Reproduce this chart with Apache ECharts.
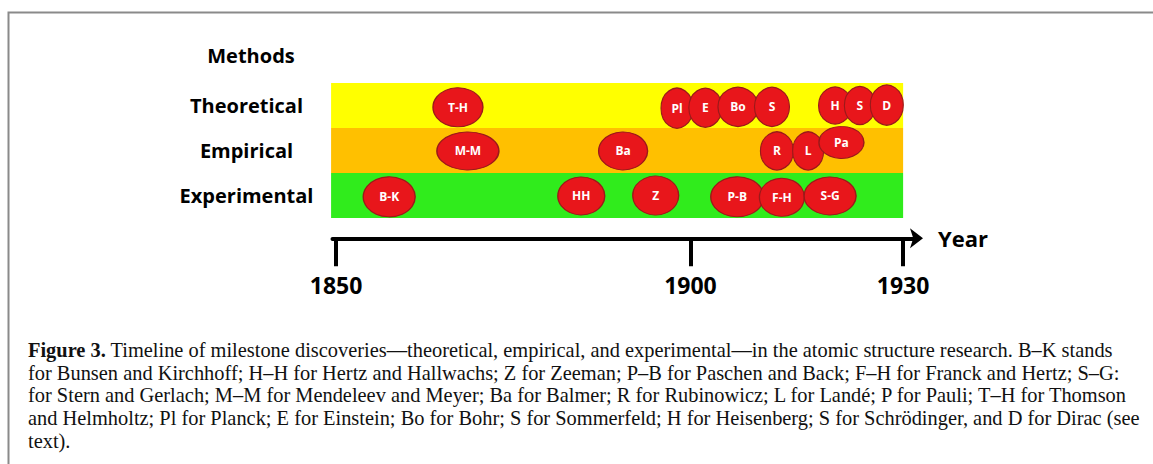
<!DOCTYPE html>
<html>
<head>
<meta charset="utf-8">
<script src="https://cdn.jsdelivr.net/npm/echarts@6/dist/echarts.min.js"></script>
<style>
  html, body { margin: 0; padding: 0; background: #fff; }
  #chart { width: 1153px; height: 464px; }
</style>
</head>
<body>
<div id="chart"></div>
<script>
// ---------------- data ----------------
const methods = ['Experimental', 'Empirical', 'Theoretical'];   // bottom -> top rows
const yearTicks = [1850, 1900, 1930];
const bandStartYear = 1849.3;
const bandEndYear = 1930;

// milestone marks (x: year on the timeline, y: row level)
const markLabels = ['B-K', 'T-H', 'M-M', 'HH', 'Ba', 'Z', 'Pl', 'E', 'P-B', 'Bo', 'S', 'R', 'F-H', 'L', 'S-G', 'H', 'Pa', 'S', 'D'];
const markYears  = [1857.5, 1867.2, 1868.6, 1884.6, 1890.5, 1895.1, 1898.1, 1902.1, 1906.6, 1906.7, 1911.5, 1912.2, 1912.9, 1916.6, 1919.7, 1920.4, 1921.3, 1923.9, 1927.7];
const markLevels = [0.47, 2.46, 1.49, 0.49, 1.49, 0.50, 2.44, 2.45, 0.47, 2.47, 2.47, 1.49, 0.46, 1.49, 0.49, 2.50, 1.68, 2.50, 2.51];

const captionLines = [
  'Timeline of milestone discoveries\u2014theoretical, empirical, and experimental\u2014in the atomic structure research. B\u2013K stands',
  'for Bunsen and Kirchhoff; H\u2013H for Hertz and Hallwachs; Z for Zeeman; P\u2013B for Paschen and Back; F\u2013H for Franck and Hertz; S\u2013G:',
  'for Stern and Gerlach; M\u2013M for Mendeleev and Meyer; Ba for Balmer; R for Rubinowicz; L for Land\u00e9; P for Pauli; T\u2013H for Thomson',
  'and Helmholtz; Pl for Planck; E for Einstein; Bo for Bohr; S for Sommerfeld; H for Heisenberg; S for Schr\u00f6dinger, and D for Dirac (see',
  'text).'
];

// ---------------- styles ----------------
const bandColors = ['#30ec1c', '#ffc000', '#ffff00'];
const markSizePx = [[52,40],[50,39],[62,38],[47,38],[49,38],[46,39],[32,40],[33,39],[53,40],[40,39],[35,39],[33,38],[45,38],[31,38],[52,38],[33,37],[45,32],[31,38],[33,40]];
const sansBold = { fontFamily: 'Open Sans', fontWeight: 'bold', color: '#000' };
const captionSize = 20.4;

const chart = echarts.init(document.getElementById('chart'), null, { renderer: 'svg' });

const bandData = methods.map((m, i) => [i, m]);
const markData = markLabels.map((l, i) => ({ value: [markYears[i], markLevels[i]], name: l }));

const captionGraphics = captionLines.map((line, i) => ({
  type: 'text',
  x: 28,
  y: 350 + i * 22.7,
  style: {
    text: i === 0 ? '{b|Figure 3.} ' + line : line,
    font: captionSize + 'px "Liberation Serif"',
    fill: '#111',
    verticalAlign: 'middle',
    rich: { b: { fontWeight: 'bold', fontFamily: 'Liberation Serif', fontSize: captionSize, fill: '#111' } }
  }
}));

chart.setOption({
  backgroundColor: '#fff',
  animation: false,
  title: {
    text: 'Methods', left: 246, top: 50, textAlign: 'center', textVerticalAlign: 'middle',
    textStyle: Object.assign({ fontSize: 20 }, sansBold)
  },
  grid: { left: 332.5, right: 235, top: 83, bottom: 225.75, outerBoundsMode: 'none', containLabel: false },
  xAxis: {
    type: 'value', min: 1849.5, max: 1932.1,
    splitLine: { show: false },
    axisLine: { show: true, onZero: false, lineStyle: { color: '#000', width: 4 }, symbol: ['none', 'arrow'], symbolSize: [15, 13], symbolOffset: [0, 5] },
    axisTick: { show: true, customValues: yearTicks, length: 28, lineStyle: { color: '#000', width: 4 } },
    axisLabel: Object.assign({ customValues: yearTicks, margin: 35, fontSize: 23, formatter: v => String(v) }, sansBold),
    name: 'Year', nameLocation: 'end', nameGap: 20,
    nameTextStyle: Object.assign({ fontSize: 22, verticalAlign: 'middle' }, sansBold)
  },
  yAxis: {
    type: 'value', min: -0.45, max: 3,
    splitLine: { show: false }, axisLine: { show: false }, axisTick: { show: false },
    axisLabel: Object.assign({
      customValues: [0.5, 1.5, 2.5], margin: 86, align: 'center', fontSize: 20,
      formatter: v => methods[Math.round(v - 0.5)]
    }, sansBold)
  },
  series: [
    {
      type: 'custom', data: bandData, silent: true, z: 1,
      renderItem: (params, api) => {
        const lv = api.value(0);
        const p1 = api.coord([bandStartYear, lv + 1]);
        const p2 = api.coord([bandEndYear, lv]);
        return { type: 'rect', shape: { x: p1[0], y: p1[1], width: p2[0] - p1[0], height: p2[1] - p1[1] },
                 style: { fill: bandColors[params.dataIndex] } };
      }
    },
    {
      type: 'scatter', data: markData, z: 3,
      symbol: 'circle',
      symbolSize: (v, p) => markSizePx[p.dataIndex],
      itemStyle: { color: '#e8161b', borderColor: '#9a1a1a', borderWidth: 1.2, opacity: 1 },
      label: { show: true, position: 'inside', formatter: p => p.name, color: '#fff', fontSize: 12, fontWeight: 'bold', fontFamily: 'Open Sans' }
    }
  ],
  graphic: [
    { type: 'polyline', shape: { points: [[8.5, 464], [8.5, 12.5], [1153, 12.5]] }, style: { stroke: '#8a8a8a', lineWidth: 2, fill: null } }
  ].concat(captionGraphics)
});
</script>
</body>
</html>
